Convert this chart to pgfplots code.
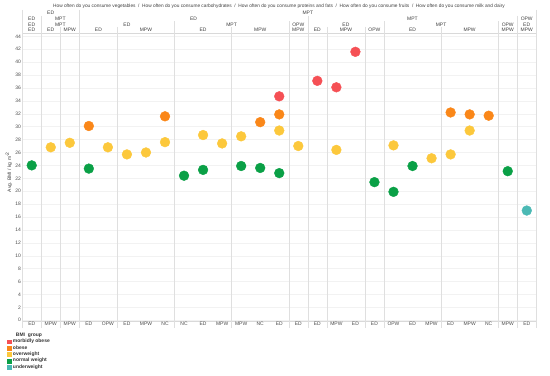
\documentclass[border=0pt]{standalone}
\usepackage{fontspec}
\setmainfont{Liberation Sans}
\usepackage{pgfplots}
\pgfplotsset{compat=1.18}
\definecolor{cRed}{RGB}{245,80,85}
\definecolor{cOrange}{RGB}{250,135,25}
\definecolor{cYellow}{RGB}{252,200,60}
\definecolor{cGreen}{RGB}{10,160,70}
\definecolor{cTeal}{RGB}{75,185,180}
\newcommand{\hl}[3]{\node[font=\fontsize{5}{6}\selectfont, text=black!75, inner sep=0pt] at (#1bp,376bp-#2bp) {#3};}
\newcommand{\vl}[3]{\draw[gray!25, line width=0.4bp] (#1bp,376bp-#2bp) -- (#1bp,376bp-#3bp);}
\begin{document}
\begin{tikzpicture}
\useasboundingbox (0,0) rectangle (550bp,376bp);
\begin{axis}[
  at={(22.2bp,54.8bp)}, anchor=south west,
  scale only axis, width=514.1bp, height=288.1bp,
  xmin=-0.5, xmax=26.5, ymin=-0.15, ymax=44.5,
  xtick={0,...,26},
  xticklabels={ED,MPW,MPW,ED,OPW,ED,MPW,NC,NC,ED,MPW,MPW,NC,ED,ED,ED,MPW,ED,ED,OPW,ED,MPW,ED,MPW,NC,MPW,ED},
  ytick={0,2,...,44},
  major tick length=0pt,
  ymajorgrids, major grid style={gray!10, line width=0.4bp},
  extra x ticks={0.5,1.5,2.5,4.5,7.5,10.5,13.5,14.5,15.5,17.5,18.5,21.5,24.5,25.5},
  extra x tick labels={},
  extra x tick style={grid=major, major grid style={gray!25, line width=0.4bp}},
  axis line style={gray!30, line width=0.4bp},
  tick label style={font=\fontsize{5}{6}\selectfont, text=black!70},
  xticklabel style={inner sep=0.8bp, anchor=north},
  yticklabel style={inner sep=1.2bp, anchor=east},
  /pgf/number format/assume math mode=true,
  clip=false,
  legend style={at={(-0.029,-0.038)}, anchor=north west, draw=none, fill=none,
    font=\fontsize{5}{6}\selectfont\bfseries, inner sep=0pt, row sep=0.3bp,
    nodes={inner sep=0.5bp, text=black!80}},
  legend cell align=left,
  legend image code/.code={\fill[#1] (0bp,-1.9bp) rectangle (3.8bp,1.9bp); \path (0bp,0bp) -- (4.6bp,0bp);},
]
\addlegendimage{empty legend}
\addlegendentry{\hspace{3bp}BMI\ \ group}
\addplot[only marks, mark=*, mark size=4.9bp, color=cRed, mark options={draw=none}] coordinates {
(13,34.7) (15,37.1) (16,36.1) (17,41.6)};
\addlegendentry{morbidly obese}
\addplot[only marks, mark=*, mark size=4.9bp, color=cOrange, mark options={draw=none}] coordinates {
(3,30.1) (7,31.6) (12,30.7) (13,31.9) (22,32.2) (23,31.9) (24,31.7)};
\addlegendentry{obese}
\addplot[only marks, mark=*, mark size=4.9bp, color=cYellow, mark options={draw=none}] coordinates {
(1,26.8) (2,27.5) (4,26.8) (5,25.7) (6,26.0) (7,27.6) (9,28.7) (10,27.4) (11,28.5) (13,29.4) (14,27.0) (16,26.4) (19,27.1) (21,25.1) (22,25.7) (23,29.4)};
\addlegendentry{overweight}
\addplot[only marks, mark=*, mark size=4.9bp, color=cGreen, mark options={draw=none}] coordinates {
(0,24.0) (3,23.5) (8,22.4) (9,23.3) (11,23.9) (12,23.6) (13,22.8) (18,21.4) (19,19.9) (20,23.9) (25,23.1)};
\addlegendentry{normal weight}
\addplot[only marks, mark=*, mark size=4.9bp, color=cTeal, mark options={draw=none}] coordinates {
(26,17.0)};
\addlegendentry{underweight}
\end{axis}
% y label
\node[rotate=90, font=\fontsize{5}{6}\selectfont, text=black!75, inner sep=0pt] at (9bp,376bp-172bp) {Avg. BMI / kg m\textsuperscript{-2}};
% title row
\node[font=\fontsize{4.8}{6}\selectfont, text=black!75, inner sep=0pt] at (279bp,376bp-6bp) {How often do you consume vegetables\ \ /\ \ How often do you consume carbohydrates\ \ /\ \ How often do you consume proteins and fats\ \ /\ \ How often do you consume fruits\ \ /\ \ How often do you consume milk and dairy};
% header lines
\vl{22.2}{10}{328}
\vl{536.3}{10}{328}
\vl{79.3}{10}{33}
\vl{41.2}{16}{33}\vl{307.8}{16}{33}\vl{517.2}{16}{33}
\vl{174.5}{21.5}{33}\vl{288.7}{21.5}{33}\vl{383.9}{21.5}{33}\vl{498.2}{21.5}{33}
\vl{60.3}{27}{33}\vl{117.4}{27}{33}\vl{231.6}{27}{33}\vl{326.8}{27}{33}\vl{364.9}{27}{33}\vl{441.0}{27}{33}
\foreach \xx in {41.2,60.3,79.3,117.4,174.5,231.6,288.7,307.8,326.8,364.9,383.9,441.0,498.2,517.2}{\vl{\xx}{321}{328}}
% L1
\hl{50.7}{13}{ED}\hl{307.8}{13}{MPT}
% L2
\hl{31.7}{19}{ED}\hl{60.3}{19}{MPT}\hl{193.5}{19}{ED}\hl{412.5}{19}{MPT}\hl{526.7}{19}{OPW}
% L3
\hl{31.7}{24.5}{ED}\hl{60.3}{24.5}{MPT}\hl{126.9}{24.5}{ED}\hl{231.6}{24.5}{MPT}\hl{298.3}{24.5}{OPW}
\hl{345.9}{24.5}{ED}\hl{441.1}{24.5}{MPT}\hl{507.7}{24.5}{OPW}\hl{526.7}{24.5}{ED}
% L4
\hl{31.7}{30}{ED}\hl{50.7}{30}{ED}\hl{69.8}{30}{MPW}\hl{98.4}{30}{ED}\hl{145.9}{30}{MPW}
\hl{203.1}{30}{ED}\hl{260.2}{30}{MPW}\hl{298.3}{30}{MPW}\hl{317.3}{30}{ED}\hl{345.9}{30}{MPW}
\hl{374.4}{30}{OPW}\hl{412.5}{30}{ED}\hl{469.6}{30}{MPW}\hl{507.7}{30}{MPW}\hl{526.7}{30}{MPW}
\end{tikzpicture}
\end{document}
